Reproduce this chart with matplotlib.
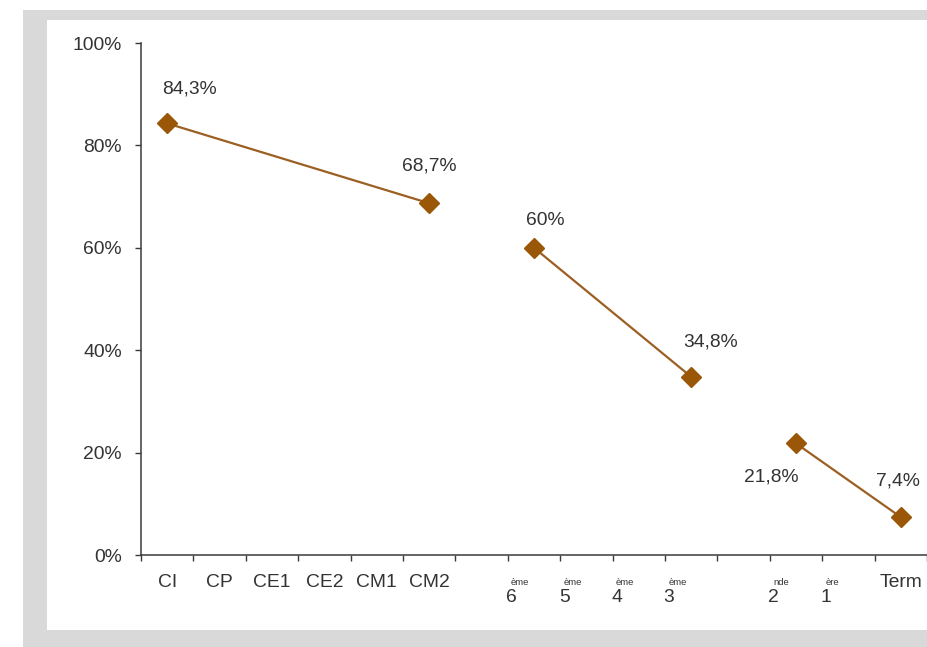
import matplotlib
matplotlib.use("Agg")
import matplotlib.pyplot as plt
from matplotlib.patches import Rectangle
from matplotlib.ticker import FixedLocator, FuncFormatter

plt.rcParams["font.family"] = ["Liberation Sans", "DejaVu Sans"]

# School levels along the x axis ("" = spacer between stages)
level_names = ["CI", "CP", "CE1", "CE2", "CM1", "CM2", "",
               "6ème", "5ème", "4ème", "3ème", "",
               "2nde", "1ère", "Term"]

# Measured rates and the stage each one belongs to
point_levels = ["CI", "CM2", "6ème", "3ème", "2nde", "Term"]
point_rates = [84.3, 68.7, 60.0, 34.8, 21.8, 7.4]
point_stages = ["primaire", "primaire", "collège", "collège", "lycée", "lycée"]

y_ticks = [0, 20, 40, 60, 80, 100]

# Offsets (points) of each value label from its marker
label_offsets = [(16, 25), (0, 27), (8, 20), (14, 25), (-18, -24), (-2, 26)]

LINE_COLOR = "#9c5f22"
MARKER_COLOR = "#9a5708"
AXIS_COLOR = "#3a3a3a"
TEXT_COLOR = "#333333"
FRAME_GRAY = "#d9d9d9"
FS = 13.9

fig = plt.figure(figsize=(9.27, 6.47), dpi=100)
W, H = 927, 647
# grey frame and white panel behind the chart
fig.patches.append(Rectangle((23 / W, 0), 1, (H - 10) / H, transform=fig.transFigure,
                             facecolor=FRAME_GRAY, edgecolor="none", zorder=-10))
fig.patches.append(Rectangle((47 / W, 17 / H), 1, (H - 20 - 17) / H, transform=fig.transFigure,
                             facecolor="white", edgecolor="none", zorder=-9))

ax = fig.add_axes([141 / W, (H - 555) / H, (W - 141) / W, 512 / H])
ax.patch.set_visible(False)

n = len(level_names)
ax.set_xlim(-0.5, n - 0.5)
ax.set_ylim(0, 100)

# one connected segment per school stage
for stage in dict.fromkeys(point_stages):
    xs = [level_names.index(l) for l, s in zip(point_levels, point_stages) if s == stage]
    ys = [r for r, s in zip(point_rates, point_stages) if s == stage]
    ax.plot(xs, ys, color=LINE_COLOR, lw=1.6, zorder=3, solid_capstyle="round")
    ax.plot(xs, ys, linestyle="none", marker="D", markersize=10.3,
            markerfacecolor=MARKER_COLOR, markeredgecolor=MARKER_COLOR, zorder=4)

for lvl, rate, (dx, dy) in zip(point_levels, point_rates, label_offsets):
    txt = ("%g" % rate).replace(".", ",") + "%"
    ax.annotate(txt, xy=(level_names.index(lvl), rate), xytext=(dx, dy),
                textcoords="offset points", ha="center", va="center",
                fontsize=FS, color=TEXT_COLOR)

# spines
for side in ("top", "right"):
    ax.spines[side].set_visible(False)
for side in ("left", "bottom"):
    ax.spines[side].set_color(AXIS_COLOR)
    ax.spines[side].set_linewidth(1.1)

# y axis
ax.set_yticks(y_ticks)
ax.yaxis.set_major_formatter(FuncFormatter(lambda v, _: f"{v:.0f}%"))
ax.tick_params(axis="y", direction="out", length=4.3, width=1.0, color=AXIS_COLOR,
               pad=9.5, labelsize=FS, labelcolor=TEXT_COLOR)

# x axis: tick marks between categories, labels at category centres
ax.xaxis.set_major_locator(FixedLocator([i - 0.5 for i in range(n + 1)]))
ax.xaxis.set_major_formatter(FuncFormatter(lambda v, _: ""))
ax.xaxis.set_minor_locator(FixedLocator(list(range(n))))
plain = [name if not name[:1].isdigit() else "" for name in level_names]
ax.set_xticklabels(plain, minor=True)
ax.tick_params(axis="x", which="major", direction="out", length=4.5, width=1.0,
               color=AXIS_COLOR)
ax.tick_params(axis="x", which="minor", length=0, pad=13.5, labelsize=FS,
               labelcolor=TEXT_COLOR)

# ordinal labels: number with a small suffix raised above it
for i, name in enumerate(level_names):
    if name[:1].isdigit():
        num, sup = name[0], name[1:]
        ax.annotate(num, xy=(i, 0), xytext=(-16, -30.5), textcoords="offset points",
                    ha="center", va="center", fontsize=FS, color=TEXT_COLOR,
                    annotation_clip=False)
        ax.annotate(sup, xy=(i, 0), xytext=(-16.5, -19.5), textcoords="offset points",
                    ha="left", va="center", fontsize=6.8, color=TEXT_COLOR,
                    annotation_clip=False)

fig.savefig("out.png", dpi=100)
